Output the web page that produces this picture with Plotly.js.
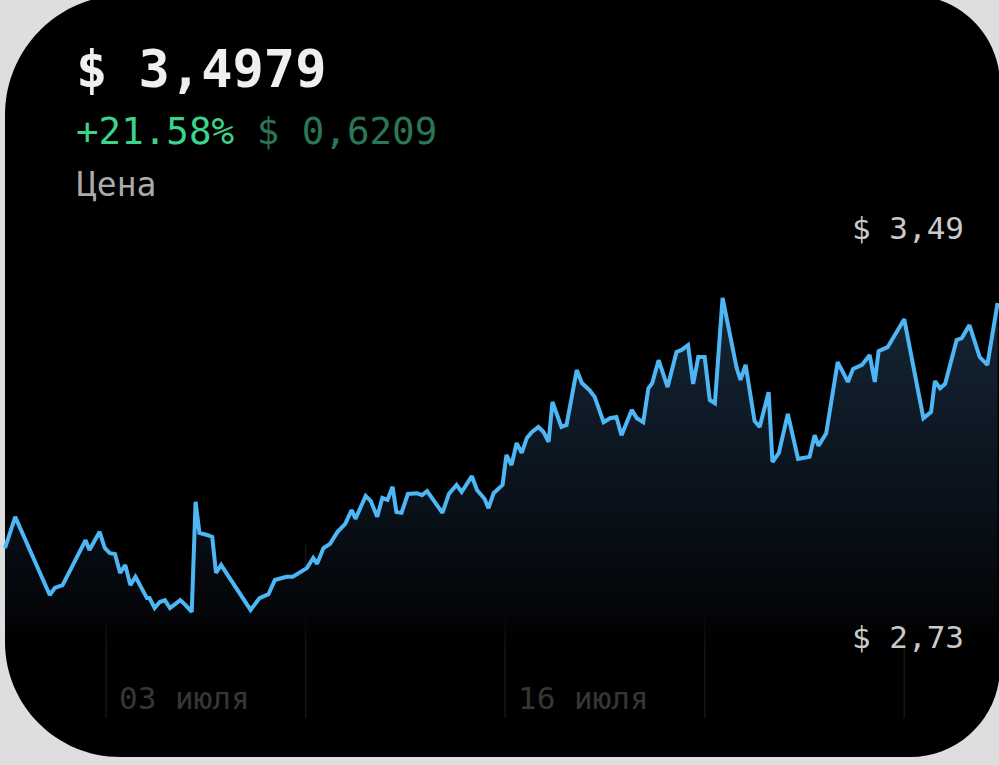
<!DOCTYPE html>
<html>
<head>
<meta charset="utf-8">
<script src="https://cdn.plot.ly/plotly-3.0.1.min.js"></script>
<style>
html,body{margin:0;padding:0;background:#dedede;}
#chart{width:999px;height:765px;}
</style>
</head>
<body>
<div id="chart"></div>
<script>
// ---- data (hours since start of period, price in $) ----
const hours = [0,8,35,39,45,63,66,74,78,82,86,90,94,98,102,111,113,117,121,125,129,137,141,146,149,152,158,162,165,169,174,192,199,206,211,220,225,236,241,244,249,254,260,266,271,274,282,286,291,295,299,303,306,310,315,322,326,330,342,347,353,357,365,369,375,378,382,387,389,392,396,400,404,408,412,417,421,425,428,435,439,447,451,457,461,468,473,478,482,490,494,499,503,506,511,518,525,529,534,538,542,547,551,555,561,572,575,579,586,590,597,600,605,612,620,629,633,636,642,651,659,663,670,676,680,683,690,703,718,724,727,731,735,744,748,754,762,768,776];
const prices = [2.877,2.956,2.758,2.776,2.783,2.897,2.872,2.918,2.877,2.864,2.862,2.814,2.834,2.783,2.804,2.750,2.750,2.725,2.740,2.745,2.725,2.745,2.733,2.715,2.994,2.915,2.910,2.905,2.814,2.834,2.809,2.720,2.750,2.760,2.796,2.804,2.804,2.826,2.852,2.837,2.877,2.887,2.918,2.938,2.973,2.951,3.009,2.996,2.956,3.004,2.999,3.032,2.968,2.966,3.014,3.016,3.011,3.021,2.966,3.014,3.037,3.019,3.059,3.024,3.001,2.978,3.016,3.029,3.037,3.113,3.087,3.143,3.118,3.156,3.171,3.184,3.171,3.146,3.247,3.184,3.189,3.328,3.295,3.277,3.260,3.196,3.206,3.209,3.163,3.227,3.206,3.196,3.282,3.295,3.353,3.285,3.374,3.379,3.391,3.293,3.361,3.361,3.252,3.244,3.511,3.333,3.303,3.341,3.199,3.184,3.272,3.095,3.118,3.217,3.103,3.108,3.163,3.136,3.168,3.348,3.298,3.331,3.341,3.366,3.298,3.376,3.386,3.457,3.206,3.222,3.300,3.282,3.293,3.404,3.409,3.442,3.361,3.341,3.498];
const gridHours = [79, 235, 391, 547, 703];
const tickHours = [79, 391];
const tickLabels = ['03 июля', '16 июля'];
const rangeLabels = ['$ 3,49', '$ 2,73'];
const headerPrice = '$ 3,4979';
const changePct = '+21.58%';
const changeAbs = '$ 0,6209';
const seriesName = 'Цена';

// ---- figure geometry helpers (decoration only) ----
const W = 999, H = 765;
const X = px => px / W;
const Y = py => 1 - py / H;

function roundedRect(l, t, r, b, rtl, rtr, rbr, rbl) {
  const k = 0.5523;
  const p = [];
  p.push('M' + X(l + rtl) + ',' + Y(t));
  p.push('L' + X(r - rtr) + ',' + Y(t));
  p.push('C' + X(r - rtr + rtr * k) + ',' + Y(t) + ' ' + X(r) + ',' + Y(t + rtr - rtr * k) + ' ' + X(r) + ',' + Y(t + rtr));
  p.push('L' + X(r) + ',' + Y(b - rbr));
  p.push('C' + X(r) + ',' + Y(b - rbr + rbr * k) + ' ' + X(r - rbr + rbr * k) + ',' + Y(b) + ' ' + X(r - rbr) + ',' + Y(b));
  p.push('L' + X(l + rbl) + ',' + Y(b));
  p.push('C' + X(l + rbl - rbl * k) + ',' + Y(b) + ' ' + X(l) + ',' + Y(b - rbl + rbl * k) + ' ' + X(l) + ',' + Y(b - rbl));
  p.push('L' + X(l) + ',' + Y(t + rtl));
  p.push('C' + X(l) + ',' + Y(t + rtl - rtl * k) + ' ' + X(l + rtl - rtl * k) + ',' + Y(t) + ' ' + X(l + rtl) + ',' + Y(t));
  p.push('Z');
  return p.join(' ');
}

const mono = '"DejaVu Sans Mono", "Liberation Mono", monospace';

const shapes = [{
  type: 'path', xref: 'paper', yref: 'paper', layer: 'below',
  path: roundedRect(5, -5, 1000, 757, 120, 90, 90, 115),
  fillcolor: '#000000', line: {width: 0}
}];
gridHours.forEach(h => shapes.push({
  type: 'line', xref: 'x', yref: 'paper', layer: 'below',
  x0: h, x1: h, y0: Y(718), y1: Y(545),
  line: {color: '#161616', width: 1.5}
}));

const annotations = [
  {xref: 'paper', yref: 'paper', x: X(74), y: Y(69), xanchor: 'left', yanchor: 'middle', showarrow: false,
   text: '<b>' + headerPrice + '</b>', font: {family: mono, size: 52, color: '#efefef'}},
  {xref: 'paper', yref: 'paper', x: X(74), y: Y(131), xanchor: 'left', yanchor: 'middle', showarrow: false,
   text: '<span style="color:#3ad48d">' + changePct + '</span> <span style="color:#2b7654">' + changeAbs + '</span>',
   font: {family: mono, size: 37.5, color: '#3ad48d'}},
  {xref: 'paper', yref: 'paper', x: X(75), y: Y(184), xanchor: 'left', yanchor: 'middle', showarrow: false,
   text: seriesName, font: {family: mono, size: 33, color: '#ababab'}},
  {xref: 'paper', yref: 'paper', x: X(966), y: Y(228), xanchor: 'right', yanchor: 'middle', showarrow: false,
   text: rangeLabels[0], font: {family: mono, size: 31, color: '#cacaca'}},
  {xref: 'paper', yref: 'paper', x: X(966), y: Y(637), xanchor: 'right', yanchor: 'middle', showarrow: false,
   text: rangeLabels[1], font: {family: mono, size: 31, color: '#cacaca'}}
];
tickHours.forEach((h, i) => annotations.push({
  xref: 'x', yref: 'paper', x: h, y: Y(698), xanchor: 'left', yanchor: 'middle', xshift: 11, showarrow: false,
  text: tickLabels[i], font: {family: mono, size: 31, color: '#363636'}
}));

const trace = {
  type: 'scatter', mode: 'lines', x: hours, y: prices,
  line: {color: '#4db6f4', width: 4, shape: 'linear'},
  fill: 'tozeroy',
  fillgradient: {
    type: 'vertical',
    start: 2.62, stop: 3.51,
    colorscale: [[0, 'rgba(0,0,0,0)'], [0.1, 'rgba(3,5,8,1)'], [0.5, 'rgb(11,20,30)'], [1, 'rgb(22,38,54)']]
  },
  hoverinfo: 'skip'
};

const layout = {
  width: W, height: H,
  margin: {l: 0, r: 0, t: 0, b: 0},
  paper_bgcolor: '#dedede',
  plot_bgcolor: 'rgba(0,0,0,0)',
  showlegend: false,
  xaxis: {range: [-3.9, 777.1], domain: [0, 1], visible: false, fixedrange: true},
  yaxis: {range: [2.327, 4.266], domain: [0, 1], visible: false, fixedrange: true},
  shapes: shapes,
  annotations: annotations
};

Plotly.newPlot('chart', [trace], layout, {displayModeBar: false, staticPlot: true});
</script>
</body>
</html>
